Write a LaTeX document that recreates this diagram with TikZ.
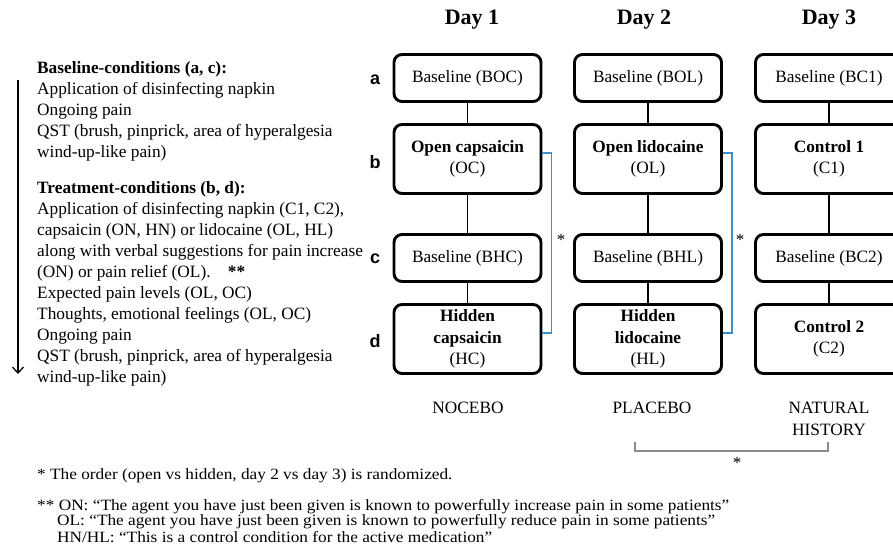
\documentclass[tikz,border=0pt]{standalone}
\usepackage{fontspec}
\setmainfont{Liberation Serif}
\newfontfamily\rowfont{Liberation Sans}
\usetikzlibrary{arrows.meta}
\definecolor{linkblue}{RGB}{60,145,205}
\definecolor{bracketgray}{RGB}{140,140,140}
\newcommand{\widen}[1]{\scalebox{1.1}[1]{#1}}

\begin{document}
\begin{tikzpicture}[x=1pt,y=-1pt]

\tikzset{box/.style = {shape=rectangle,draw,rounded corners=8pt,line width=2.9pt,minimum width=147pt,align=center,inner sep=1pt,font=\fontsize{17.3}{21.5}\selectfont}}
\tikzset{short/.style = {box,minimum height=47pt}}
\tikzset{tall/.style = {box,minimum height=69pt}}
\tikzset{row/.style = {font=\rowfont\bfseries\fontsize{18}{18}\selectfont}}
\tikzset{day/.style = {font=\bfseries\fontsize{22}{22}\selectfont}}
\tikzset{group/.style = {align=center,font=\fontsize{17.3}{22}\selectfont}}
\tikzset{block/.style = {anchor=north west,inner sep=0pt,align=left,font=\fontsize{17.3}{21}\selectfont}}
\tikzset{note/.style = {anchor=west,inner sep=0pt,font=\fontsize{15.7}{15}\selectfont}}
\tikzset{star/.style = {inner sep=0pt,font=\fontsize{17}{17}\selectfont}}
\tikzset{edge/.style = {line width=1.3pt}}
\tikzset{link/.style = {draw=linkblue,line width=1.4pt}}
\clip (0,0) rectangle (893,559);

% days
\node[day] (day1) at (472,20) {Day 1};
\node[day] (day2) at (644,20) {Day 2};
\node[day] (day3) at (829,20) {Day 3};
% rows
\node[row] (ra) at (375,80) {a};
\node[row] (rb) at (375,162) {b};
\node[row] (rc) at (375,259) {c};
\node[row] (rd) at (375,341) {d};
% nocebo
\node[short] (boc) at (467.5,78) {Baseline (BOC)};
\node[tall] (oc) at (467.5,159) {\textbf{Open capsaicin}\\(OC)};
\node[short] (bhc) at (467.5,258) {Baseline (BHC)};
\node[tall] (hc) at (467.5,339) {\textbf{Hidden}\\\textbf{capsaicin}\\(HC)};
% placebo
\node[short] (bol) at (648,78) {Baseline (BOL)};
\node[tall] (ol) at (648,159) {\textbf{Open lidocaine}\\(OL)};
\node[short] (bhl) at (648,258) {Baseline (BHL)};
\node[tall] (hl) at (648,339) {\textbf{Hidden}\\\textbf{lidocaine}\\(HL)};
% natural history
\node[short] (bc1) at (829,78) {Baseline (BC1)};
\node[tall] (c1) at (829,159) {\textbf{Control 1}\\(C1)};
\node[short] (bc2) at (829,258) {Baseline (BC2)};
\node[tall] (c2) at (829,339) {\textbf{Control 2}\\(C2)};
% edges
\draw[edge] (boc) -- (oc);
\draw[edge] (oc) -- (bhc);
\draw[edge] (bhc) -- (hc);
\draw[edge] (bol) -- (ol);
\draw[edge] (ol) -- (bhl);
\draw[edge] (bhl) -- (hl);
\draw[edge] (bc1) -- (c1);
\draw[edge] (c1) -- (bc2);
\draw[edge] (bc2) -- (c2);
% randomized order
\draw[link] ([yshift=6pt]oc.east) -- ++(9,0) |- ([yshift=6pt]hc.east);
\draw[link] ([yshift=6pt]ol.east) -- ++(9,0) |- ([yshift=6pt]hl.east);
\node[star] (s1) at (561,240) {*};
\node[star] (s2) at (740,240) {*};
% groups
\node[group] (nocebo) at (468,408) {NOCEBO};
\node[group] (placebo) at (652,408) {PLACEBO};
\node[group] (natural) at (829,419) {NATURAL\\HISTORY};
\coordinate (gl) at (635,442);
\coordinate (gr) at (828,442);
\draw[draw=bracketgray,line width=1.2pt] (gl) -- ++(0,9) -| (gr);
\node[star] (s3) at (737,463) {*};
% left text
\node[block] (base) at (37,61) {\textbf{Baseline-conditions (a, c):}\\
Application of disinfecting napkin\\
Ongoing pain\\
QST (brush, pinprick, area of hyperalgesia\\
wind-up-like pain)};
\node[block] (treat) at (37,181) {\textbf{Treatment-conditions (b, d):}\\
Application of disinfecting napkin (C1, C2),\\
capsaicin (ON, HN) or lidocaine (OL, HL)\\
along with verbal suggestions for pain increase\\
(ON) or pain relief (OL).\quad\textbf{**}\\
Expected pain levels (OL, OC)\\
Thoughts, emotional feelings (OL, OC)\\
Ongoing pain\\
QST (brush, pinprick, area of hyperalgesia\\
wind-up-like pain)};
\coordinate (ttop) at (18,80);
\coordinate (tbot) at (18,374);
\draw[edge,-{Straight Barb[length=6pt,width=11pt]}] (ttop) -- (tbot);
% footnotes
\node[note] (fn1) at (37,476) {\widen{* The order (open vs hidden, day 2 vs day 3) is randomized.}};
\node[note] (fn2) at (37,507) {\widen{** ON: \char"201CThe agent you have just been given is known to powerfully increase pain in some patients\char"201D}};
\node[note] (fn3) at (57,522) {\widen{OL: \char"201CThe agent you have just been given is known to powerfully reduce pain in some patients\char"201D}};
\node[note] (fn4) at (57,537) {\widen{HN/HL: \char"201CThis is a control condition for the active medication\char"201D}};
\end{tikzpicture}
\end{document}
